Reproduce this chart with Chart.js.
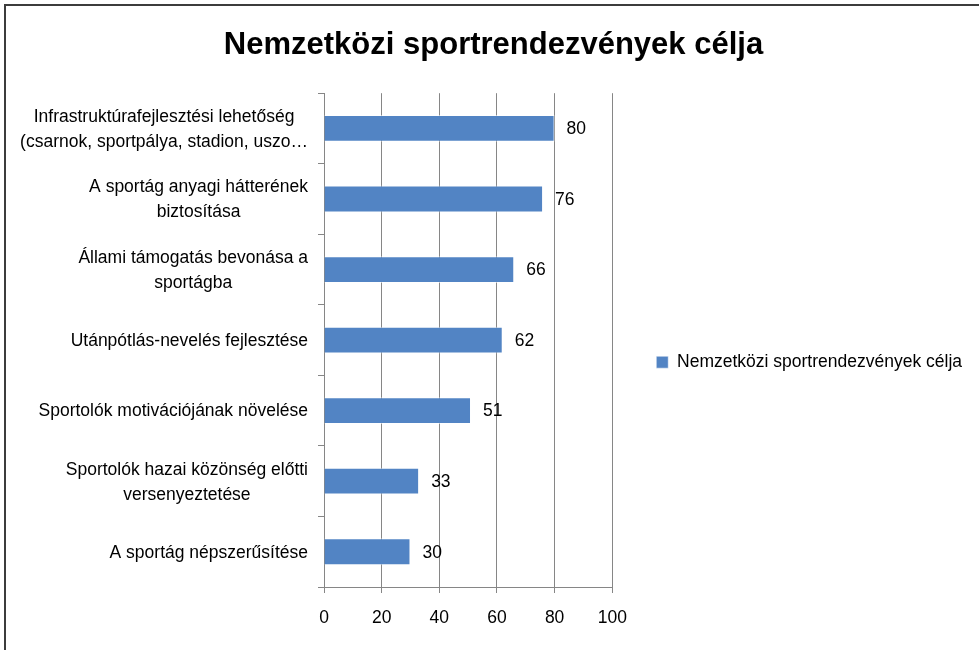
<!DOCTYPE html>
<html>
<head>
<meta charset="utf-8">
<script src="https://cdn.jsdelivr.net/npm/chart.js@4.4.0/dist/chart.umd.min.js"></script>
<style>
html, body { margin: 0; padding: 0; background: #fff; }
#frame { position: absolute; left: 4px; top: 4px; width: 1000px; height: 700px;
         border-left: 2px solid #3c3c3c; border-top: 2px solid #3c3c3c; }
#c { position: absolute; left: 0; top: 0; }
</style>
</head>
<body>
<div id="frame"></div>
<canvas id="c" width="979" height="650"></canvas>
<script>
const categories = [
    ['Infrastruktúrafejlesztési lehetőség', '(csarnok, sportpálya, stadion, uszo…'],
    ['A sportág anyagi hátterének', 'biztosítása'],
    ['Állami támogatás bevonása a', 'sportágba'],
    ['Utánpótlás-nevelés fejlesztése'],
    ['Sportolók motivációjának növelése'],
    ['Sportolók hazai közönség előtti', 'versenyeztetése'],
    ['A sportág népszerűsítése']
];
const values = [80, 76, 66, 62, 51, 33, 30];
const seriesName = 'Nemzetközi sportrendezvények célja';
const chartTitle = 'Nemzetközi sportrendezvények célja';
const xTicks = [0, 20, 40, 60, 80, 100];

const fontFamily = '"Liberation Sans", Arial, sans-serif';
Chart.defaults.font.family = fontFamily;
Chart.defaults.color = '#000';

const padLeft = 15;

// category labels: block right-aligned at the axis, lines centred inside the block
const yLabels = {
    id: 'yLabels',
    afterDraw(chart) {
        const scale = chart.scales.y;
        const ctx = chart.ctx;
        const right = scale.right - 16;
        const lineH = 25;
        ctx.save();
        ctx.font = '17.5px ' + fontFamily;
        ctx.fillStyle = '#000';
        ctx.textAlign = 'center';
        ctx.textBaseline = 'middle';
        categories.forEach((lines, i) => {
            let w = Math.max(...lines.map(l => ctx.measureText(l).width));
            let y = scale.getPixelForTick(i) + 1;
            lines.forEach((l, j) => {
                ctx.fillText(l, right - w / 2, y + (j - (lines.length - 1) / 2) * lineH);
            });
        });
        ctx.restore();
    }
};

// value next to the end of each bar
const valueLabels = {
    id: 'valueLabels',
    afterDatasetsDraw(chart) {
        const ctx = chart.ctx;
        const meta = chart.getDatasetMeta(0);
        ctx.save();
        ctx.font = '17.5px ' + fontFamily;
        ctx.fillStyle = '#000';
        ctx.textAlign = 'left';
        ctx.textBaseline = 'middle';
        meta.data.forEach((bar, i) => {
            ctx.fillText(values[i], bar.x + 12, bar.y + 1);
        });
        ctx.restore();
    }
};

new Chart(document.getElementById('c'), {
    type: 'bar',
    data: {
        labels: categories,
        datasets: [{
            label: seriesName,
            data: values,
            backgroundColor: '#5284c4',
            borderColor: 'rgba(255,255,255,0.55)',
            borderWidth: 1,
            barPercentage: 0.38,
            categoryPercentage: 1
        }]
    },
    options: {
        indexAxis: 'y',
        responsive: false,
        animation: false,
        layout: { padding: { left: padLeft, right: 7, top: 0, bottom: 6 } },
        plugins: {
            title: {
                display: true,
                text: chartTitle,
                color: '#000',
                font: { size: 31, weight: 'bold' },
                padding: { top: 27, bottom: 29 }
            },
            legend: {
                position: 'right',
                align: 'center',
                maxWidth: 420,
                title: { display: true, text: '', font: { size: 12 }, padding: { top: 0, bottom: 66 } },
                labels: {
                    boxWidth: 12,
                    boxHeight: 12,
                    padding: 44,
                    color: '#000',
                    font: { size: 17.5 }
                }
            },
            tooltip: { enabled: false }
        },
        scales: {
            x: {
                min: xTicks[0],
                max: xTicks[xTicks.length - 1],
                ticks: { stepSize: xTicks[1] - xTicks[0], color: '#000', font: { size: 17.5 }, padding: 15 },
                grid: { color: '#868686', tickLength: 6 },
                border: { color: '#868686' }
            },
            y: {
                ticks: { display: false },
                grid: { drawOnChartArea: false, offset: true, tickLength: 6, color: '#868686' },
                border: { color: '#868686' },
                afterFit(scale) { scale.width = 324 - padLeft; }
            }
        }
    },
    plugins: [yLabels, valueLabels]
});
</script>
</body>
</html>
